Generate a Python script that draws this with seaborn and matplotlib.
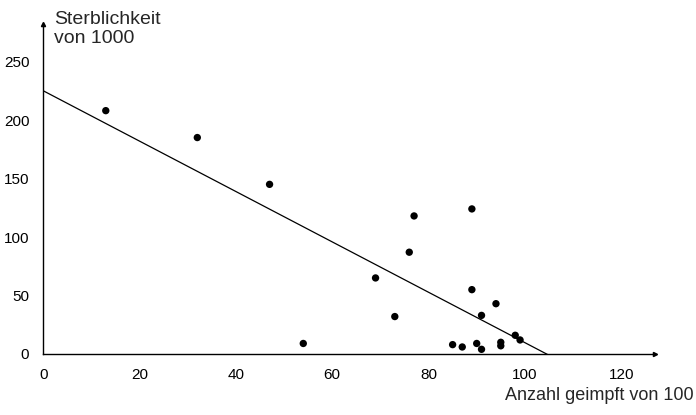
import numpy as np
import pandas as pd
import matplotlib
matplotlib.use("Agg")
import matplotlib.pyplot as plt
import seaborn as sns

# Daten
geimpft = [13, 32, 47, 54, 69, 73, 76, 77, 89, 89, 94, 91, 85, 87, 90, 91, 95, 95, 98, 99]
sterblichkeit = [208, 185, 145, 9, 65, 32, 87, 118, 124, 55, 43, 33, 8, 6, 9, 4, 10, 7, 16, 12]
x_ticks = [0, 20, 40, 60, 80, 100, 120]
y_ticks = [0, 50, 100, 150, 200, 250]

df = pd.DataFrame({'geimpft': geimpft, 'sterblichkeit': sterblichkeit})

sns.set_style('white')
plt.rcParams['font.family'] = ['Liberation Sans', 'DejaVu Sans']

fig = plt.figure(figsize=(6.96, 4.15), dpi=100)
ax = fig.add_axes([0.062, 0.147, 0.879, 0.795])
ax.set_xlim(0, 127)
ax.set_ylim(0, 282)

sns.regplot(data=df, x='geimpft', y='sterblichkeit', ax=ax, ci=None, truncate=False,
            scatter_kws={'s': 28, 'color': 'black', 'edgecolor': 'none', 'alpha': 1},
            line_kws={'color': 'black', 'linewidth': 0.9})

ax.set_xlim(0, 127)
ax.set_ylim(0, 282)
ax.set_xticks(x_ticks)
ax.set_yticks(y_ticks)
ax.tick_params(axis='both', direction='out', length=4, width=1, color='black',
               labelsize=11, labelcolor='black', pad=6)
ax.set_xlabel('')
ax.set_ylabel('')

for s in ['top', 'right']:
    ax.spines[s].set_visible(False)
for s in ['left', 'bottom']:
    ax.spines[s].set_color('black')
    ax.spines[s].set_linewidth(1)

# Pfeilspitzen an den Achsen
ax.plot(1, 0, '>k', transform=ax.transAxes, clip_on=False, markersize=3)
ax.plot(0, 1, '^k', transform=ax.transAxes, clip_on=False, markersize=3)

fig.text(54 / 696, 1 - 29 / 415, 'Sterblichkeit\nvon 1000', fontsize=14, ha='left', va='center',
         linespacing=1.2)
fig.text(694 / 696, 1 - 395 / 415, 'Anzahl geimpft von 100', fontsize=13, ha='right', va='center')

fig.savefig('out.png', dpi=100)
